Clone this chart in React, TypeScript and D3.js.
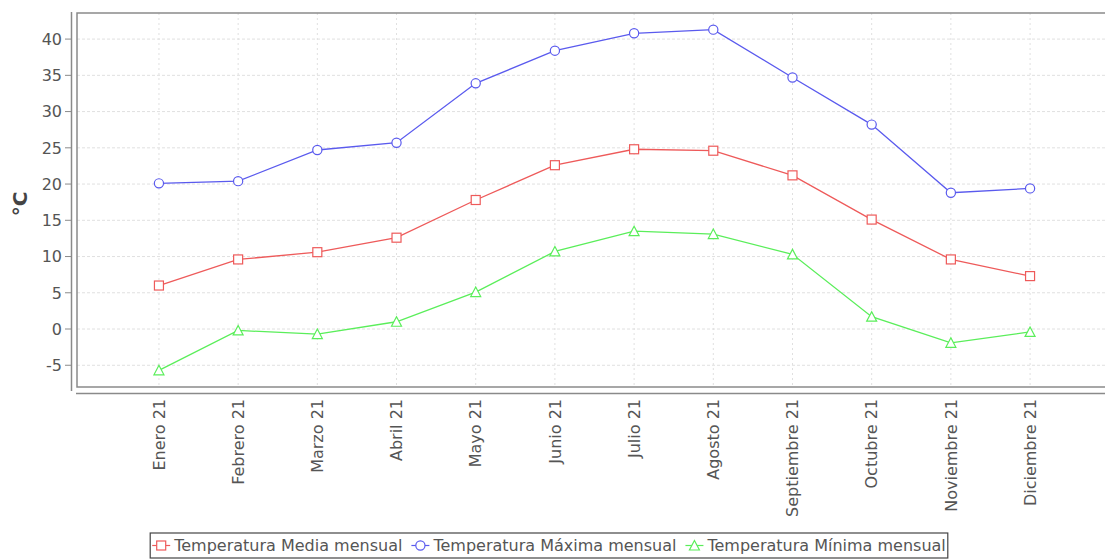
import React from "react";
import * as d3 from "d3";

const months = [
  "Enero 21", "Febrero 21", "Marzo 21", "Abril 21", "Mayo 21", "Junio 21",
  "Julio 21", "Agosto 21", "Septiembre 21", "Octubre 21", "Noviembre 21", "Diciembre 21",
];
const media = [6.0, 9.6, 10.6, 12.6, 17.8, 22.6, 24.8, 24.6, 21.2, 15.1, 9.6, 7.3];
const maxima = [20.1, 20.4, 24.7, 25.7, 33.9, 38.4, 40.8, 41.3, 34.7, 28.2, 18.8, 19.4];
const minima = [-5.7, -0.2, -0.7, 1.0, 5.1, 10.7, 13.5, 13.1, 10.3, 1.7, -1.9, -0.4];
const yTicks = [-5, 0, 5, 10, 15, 20, 25, 30, 35, 40];
const seriesNames = ["Temperatura Media mensual", "Temperatura Máxima mensual", "Temperatura Mínima mensual"];
const yLabel = "°C";

const W = 1105;
const H = 559;
const FONT = "DejaVu Sans, sans-serif";

type Shape = "square" | "circle" | "triangle";

function Marker({ x, y, shape, color }: { x: number; y: number; shape: Shape; color: string }) {
  if (shape === "square") {
    return <rect x={x - 4.5} y={y - 4.5} width={9} height={9} fill="white" stroke={color} strokeWidth={1.2} />;
  }
  if (shape === "circle") {
    return <circle cx={x} cy={y} r={4.6} fill="white" stroke={color} strokeWidth={1.2} />;
  }
  return (
    <path
      d={`M${x},${y - 5}L${x + 5},${y + 4.5}L${x - 5},${y + 4.5}Z`}
      fill="white"
      stroke={color}
      strokeWidth={1.2}
    />
  );
}

function measure(text: string, font: string) {
  const c = document.createElement("canvas");
  const ctx = c.getContext("2d")!;
  ctx.font = font;
  return ctx.measureText(text).width;
}

export default function App() {
  const left = 77;
  const right = 1112;
  const top = 13;
  const bottom = 387;
  const pw = right - left;
  const inset = pw * (0.05 + 0.7 / 24);

  const x = d3.scalePoint<string>().domain(months).range([left + inset, right - inset]);
  const y = d3.scaleLinear().domain([-8, 43.6]).range([bottom, top]);

  const series = [
    { name: seriesNames[0], values: media, color: "#ee5a5a", shape: "square" as Shape },
    { name: seriesNames[1], values: maxima, color: "#5a5aee", shape: "circle" as Shape },
    { name: seriesNames[2], values: minima, color: "#5aee5a", shape: "triangle" as Shape },
  ];

  const line = d3
    .line<number>()
    .x((_, i) => x(months[i])!)
    .y((d) => y(d));

  const tickFont = 16;
  const legFontSize = 16;
  const legFont = `${legFontSize}px DejaVu Sans`;
  const symW = 18;
  const symGap = 4;
  const itemGap = 9;
  const widths = series.map((s) => measure(s.name, legFont));
  const totalW = widths.reduce((a, b) => a + b, 0) + series.length * (symW + symGap) + (series.length - 1) * itemGap + 4;
  const legCenter = 549;
  const legLeft = legCenter - totalW / 2;
  const legTop = 533;
  const legH = 25;
  let cursor = legLeft + 2;
  const legItems = series.map((s, i) => {
    const sx = cursor;
    cursor += symW + symGap + widths[i] + itemGap;
    return { ...s, sx };
  });

  return (
    <svg
      width={W}
      height={H}
      style={{ position: "absolute", left: 0, top: 0, display: "block", background: "white" }}
      fontFamily={FONT}
    >
      <rect x={0} y={0} width={W} height={H} fill="white" />
      {yTicks.map((t) => (
        <line key={"gy" + t} x1={left} x2={right} y1={y(t)} y2={y(t)} stroke="#e0e0e0" strokeWidth={1} strokeDasharray="3,2" />
      ))}
      {months.map((m) => (
        <line key={"gx" + m} x1={x(m)} x2={x(m)} y1={top} y2={bottom} stroke="#e0e0e0" strokeWidth={1} strokeDasharray="2,3" />
      ))}
      <path d={`M${right},${top}H${left}V${bottom}H${right}`} fill="none" stroke="#8a8a8a" strokeWidth={1.5} />
      <line x1={71.5} x2={71.5} y1={12} y2={391} stroke="#8a8a8a" strokeWidth={1.5} />
      <line x1={76} x2={W} y1={393.5} y2={393.5} stroke="#8a8a8a" strokeWidth={1.5} />
      {yTicks.map((t) => (
        <g key={"yt" + t}>
          <line x1={65} x2={71.5} y1={y(t)} y2={y(t)} stroke="#8a8a8a" strokeWidth={1} />
          <text x={62} y={y(t)} dy="0.36em" textAnchor="end" fontSize={tickFont} fill="#555">
            {t}
          </text>
        </g>
      ))}
      <text
        transform={`translate(27,${(top + bottom) / 2 + 4}) rotate(-90)`}
        textAnchor="middle"
        fontSize={20}
        fontWeight="bold"
        fill="#444"
      >
        {yLabel}
      </text>
      {months.map((m) => (
        <text
          key={"xl" + m}
          transform={`translate(${x(m)},${399}) rotate(-90)`}
          textAnchor="end"
          dy="0.36em"
          fontSize={tickFont}
          fill="#555"
        >
          {m}
        </text>
      ))}
      {series.map((s) => (
        <g key={s.name}>
          <path d={line(s.values)!} fill="none" stroke={s.color} strokeWidth={1.3} />
          {s.values.map((v, i) => (
            <Marker key={i} x={x(months[i])!} y={y(v)} shape={s.shape} color={s.color} />
          ))}
        </g>
      ))}
      <rect x={legLeft} y={legTop} width={totalW} height={legH} fill="white" stroke="#444" strokeWidth={1.2} />
      {legItems.map((s) => {
        const cy = legTop + legH / 2;
        const cx = s.sx + symW / 2;
        return (
          <g key={"leg" + s.name}>
            <line x1={s.sx} x2={s.sx + symW} y1={cy} y2={cy} stroke={s.color} strokeWidth={1.2} />
            <Marker x={cx} y={cy} shape={s.shape} color={s.color} />
            <text x={s.sx + symW + symGap} y={cy} dy="0.36em" fontSize={legFontSize} fill="#555">
              {s.name}
            </text>
          </g>
        );
      })}
    </svg>
  );
}
